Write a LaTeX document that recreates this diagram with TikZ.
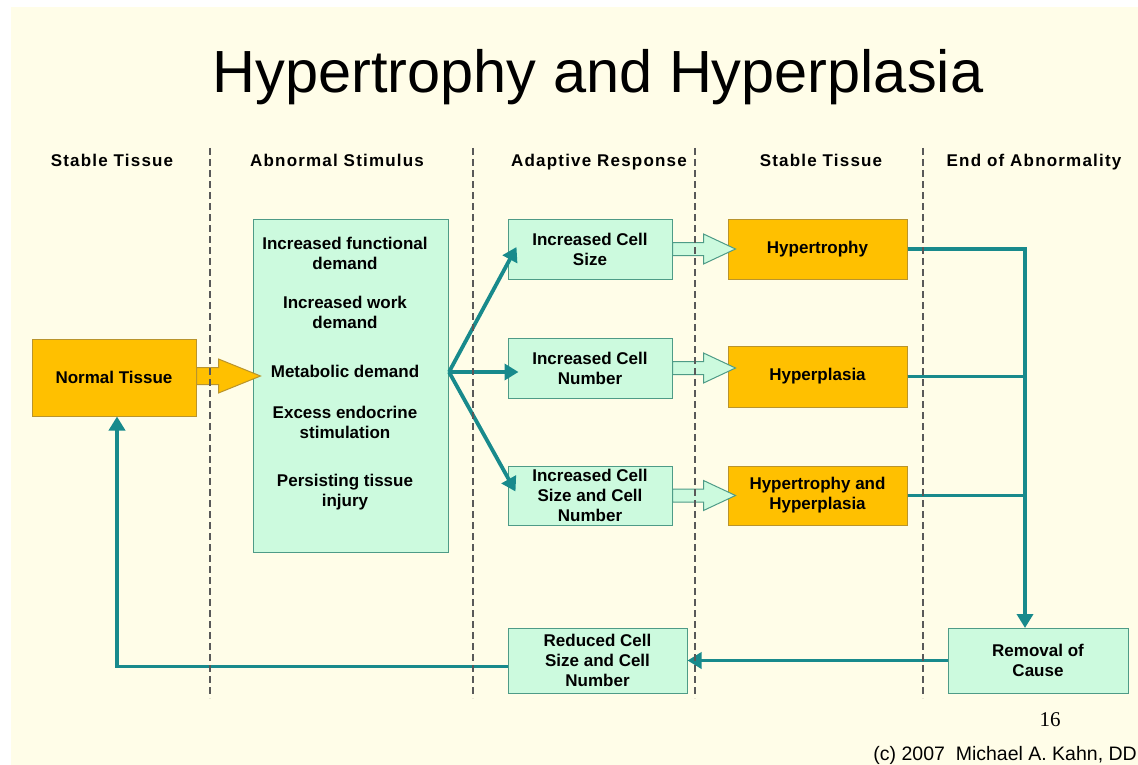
\documentclass[tikz,border=0pt]{standalone}
\usepackage{fontspec}
\setmainfont{Liberation Sans}
\newfontfamily\serifnum{Liberation Serif}
\usetikzlibrary{arrows.meta}
\definecolor{bgc}{RGB}{255,253,232}
\definecolor{goldc}{RGB}{255,192,0}
\definecolor{goldline}{RGB}{185,148,45}
\definecolor{mintc}{RGB}{204,250,222}
\definecolor{mintline}{RGB}{78,155,135}
\definecolor{tealc}{RGB}{24,138,140}
\begin{document}
\begin{tikzpicture}[x=1pt,y=-1pt,
  box/.style={draw, line width=1pt, align=center, inner sep=0pt,
    font=\bfseries\fontsize{17}{20}\selectfont},
  gbox/.style={box, fill=mintc, draw=mintline},
  obox/.style={box, fill=goldc, draw=goldline},
  plain/.style={align=center, inner sep=0pt, font=\bfseries\fontsize{17}{20}\selectfont},
  hdr/.style={anchor=base, inner sep=0pt,
    font=\bfseries\fontsize{17}{20}\selectfont\addfontfeature{LetterSpace=7}},
  conn/.style={draw=tealc, line width=3.8pt},
  arrowed/.style={-{Triangle[length=14pt,width=16pt]}},
  divider/.style={draw=black!65, line width=1.3pt, dash pattern=on 7pt off 4pt},
  harrow/.style={fill=mintc, draw=mintline, line width=1pt, line join=miter},
  garrow/.style={fill=goldc, draw=goldline, line width=1pt, line join=miter}]
\useasboundingbox (0,0) rectangle (1138,765);
\clip (0,0) rectangle (1138,765);
\fill[white] (0,0) rectangle (1138,765);
\fill[bgc] (11,7) rectangle (1138,765);

% title
\node[anchor=base, inner sep=0pt, font=\fontsize{59.5}{72}\selectfont] (title) at (598,93) {Hypertrophy and Hyperplasia};

% column headers
\node[hdr] (h1) at (112,167) {Stable Tissue};
\node[hdr] (h2) at (337,167) {Abnormal Stimulus};
\node[hdr] (h3) at (599,167) {Adaptive Response};
\node[hdr] (h4) at (821,167) {Stable Tissue};
\node[hdr] (h5) at (1034,167) {End of Abnormality};

% boxes
\node[obox, minimum width=164, minimum height=77] (norm) at (114,377.5) {Normal Tissue};
\node[gbox, minimum width=195, minimum height=333] (stim) at (350.5,385.5) {};
\node[plain] (t1) at (345,253) {Increased functional\\demand};
\node[plain] (t2) at (345,312) {Increased work\\demand};
\node[plain] (t3) at (345,371) {Metabolic demand};
\node[plain] (t4) at (345,422) {Excess endocrine\\stimulation};
\node[plain] (t5) at (345,492) {Persisting tissue\\injury};

\node[gbox, minimum width=164, minimum height=60] (a1) at (590,249) {Increased Cell\\Size};
\node[gbox, minimum width=164, minimum height=60] (a2) at (590,368) {Increased Cell\\Number};
\node[gbox, minimum width=164, minimum height=59] (a3) at (590,495.5) {Increased Cell\\Size and Cell\\Number};

\node[obox, minimum width=179, minimum height=60] (s1) at (817.5,249) {Hypertrophy};
\node[obox, minimum width=179, minimum height=61] (s2) at (817.5,376.5) {Hyperplasia};
\node[obox, minimum width=179, minimum height=59] (s3) at (817.5,495.5) {Hypertrophy and\\Hyperplasia};

\node[gbox, minimum width=180, minimum height=65] (rem) at (1038,660.5) {Removal of\\Cause};
\node[gbox, minimum width=179, minimum height=65] (red) at (597.5,660.5) {Reduced Cell\\Size and Cell\\Number};

% block arrow from Normal Tissue
\draw[garrow] (norm.east) ++(0,-10) -- ++(22,0) -- ++(0,-8.5) -- ++(42,17) -- ++(-42,17) -- ++(0,-8.5) -- ++(-22,0) -- cycle;

% hollow arrows
\foreach \src in {a1,a2,a3}{
  \draw[harrow] (\src.east) ++(0,-6.5) -- ++(31,0) -- ++(0,-8.5) -- ++(32,15) -- ++(-32,15) -- ++(0,-8.5) -- ++(-31,0) -- cycle;
}

% fan arrows
\coordinate (fan) at (449,372);
\draw[conn,arrowed] (fan) -- ([xshift=9pt,yshift=2pt]a1.west);
\draw[conn,arrowed] (fan) -- ([xshift=11pt,yshift=-4pt]a2.west);
\draw[conn,arrowed] (fan) -- ([xshift=8pt,yshift=4pt]a3.west);

% right side collector
\coordinate (jb) at (1025,628);
\draw[conn,arrowed] (s1.east) -- (s1.east -| jb) -- (jb);
\draw[conn] (s2.east) -- (s2.east -| jb);
\draw[conn] (s3.east) -- (s3.east -| jb);

% bottom return
\draw[conn,arrowed] (rem.west) -- (red.east);
\draw[conn,arrowed] ([yshift=-6pt]red.west) -| ([xshift=3pt]norm.south);

% dividers
\foreach \xx in {210,473,695,923}{
  \draw[divider] (\xx,148) -- (\xx,698);
}

% page number and credit
\node[font=\serifnum\fontsize{21}{24}\selectfont, inner sep=0pt] (pg) at (1050,720) {16};
\node[anchor=base east, inner sep=0pt, font=\fontsize{19.5}{22}\selectfont] (credit) at (1137,760) {(c) 2007\ \ Michael A. Kahn, DD};
\end{tikzpicture}
\end{document}
